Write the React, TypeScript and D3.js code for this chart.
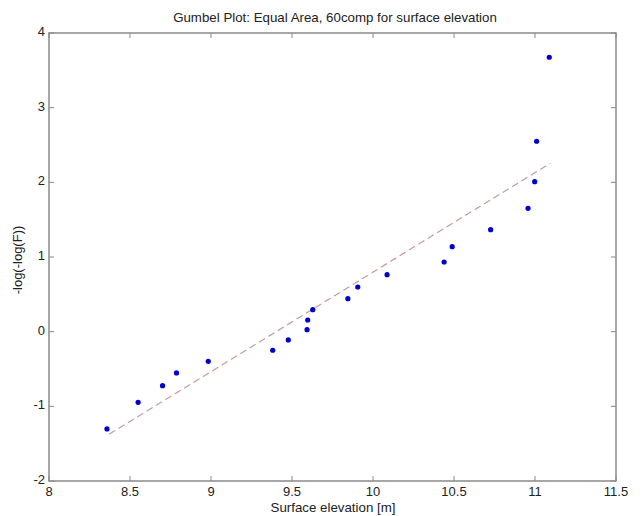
import React from "react";
import * as d3 from "d3";

const elevation = [8.358, 8.55, 8.701, 8.787, 8.983, 9.381, 9.477, 9.593, 9.597, 9.628, 9.845, 9.906, 10.087, 10.439, 10.489, 10.726, 10.957, 10.998, 11.01, 11.088];
const gumbel = [-1.303, -0.946, -0.723, -0.553, -0.397, -0.249, -0.111, 0.027, 0.156, 0.294, 0.442, 0.598, 0.763, 0.933, 1.138, 1.366, 1.652, 2.009, 2.55, 3.675];
const fitX = [8.371, 11.094];
const fitY = [-1.374, 2.255];
const xTicks = [8, 8.5, 9, 9.5, 10, 10.5, 11, 11.5];
const yTicks = [-2, -1, 0, 1, 2, 3, 4];

const W = 644, H = 516;
const L = 49, R = 616, T = 33, B = 481;
const font = "Liberation Sans, Arial, sans-serif";
const axisColor = "#8a8a8a";

export default function App() {
  const x = d3.scaleLinear().domain([8, 11.5]).range([L, R]);
  const y = d3.scaleLinear().domain([-2, 4]).range([B, T]);
  const line = d3.line<number>().x((d, i) => x(fitX[i])).y((d, i) => y(fitY[i]));
  const tl = 5;
  return (
    <svg width={W} height={H} style={{ position: "absolute", left: 0, top: 0, background: "#fff" }}>
      <rect x={0} y={0} width={W} height={H} fill="#fff" />
      <text x={335} y={22} textAnchor="middle" fontFamily={font} fontSize={13.3} fill="#222">Gumbel Plot: Equal Area, 60comp for surface elevation</text>
      <path d={line(fitX) || ""} fill="none" stroke="#c49a9a" strokeWidth={1.2} strokeDasharray="7,4" />
      {elevation.map((v, i) => (
        <circle key={i} cx={x(v)} cy={y(gumbel[i])} r={2.6} fill="#0000cc" />
      ))}
      <rect x={L} y={T} width={R - L} height={B - T} fill="none" stroke={axisColor} strokeWidth={1.5} />
      {xTicks.map((t) => (
        <g key={"x" + t}>
          <line x1={x(t)} x2={x(t)} y1={B} y2={B - tl} stroke={axisColor} />
          <line x1={x(t)} x2={x(t)} y1={T} y2={T + tl} stroke={axisColor} />
          <text x={x(t)} y={B + 15} textAnchor="middle" fontFamily={font} fontSize={13} fill="#222">{t}</text>
        </g>
      ))}
      {yTicks.map((t) => (
        <g key={"y" + t}>
          <line x1={L} x2={L + tl} y1={y(t)} y2={y(t)} stroke={axisColor} />
          <line x1={R} x2={R - tl} y1={y(t)} y2={y(t)} stroke={axisColor} />
          <text x={L - 4} y={y(t) + 3} textAnchor="end" fontFamily={font} fontSize={13} fill="#222">{t}</text>
        </g>
      ))}
      <text x={333} y={512} textAnchor="middle" fontFamily={font} fontSize={13.3} fill="#222">Surface elevation [m]</text>
      <text transform={`translate(22,${(T + B) / 2 + 3}) rotate(-90)`} textAnchor="middle" fontFamily={font} fontSize={13} fill="#222">-log(-log(F))</text>
    </svg>
  );
}
